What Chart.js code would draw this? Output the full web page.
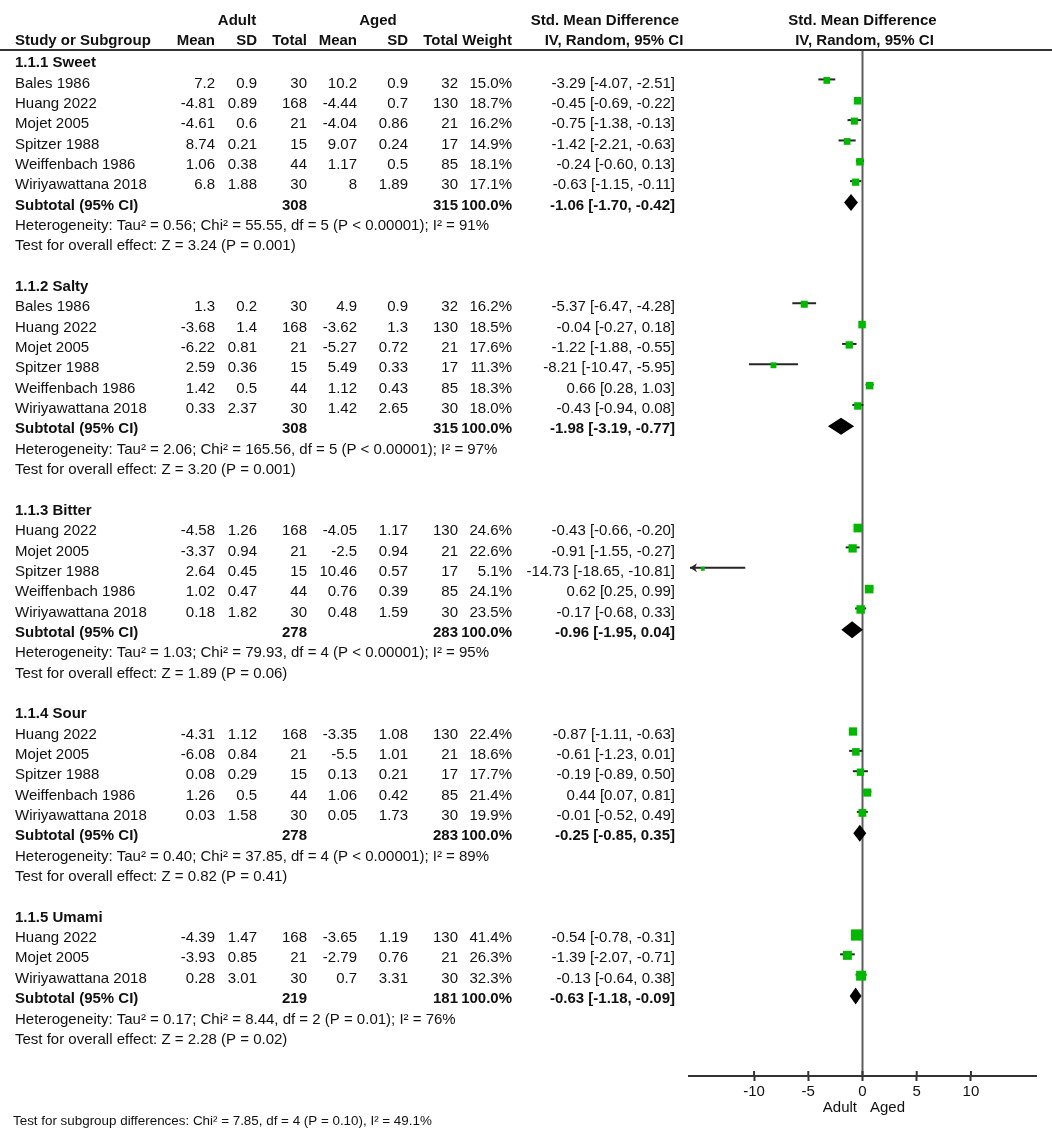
<!DOCTYPE html>
<html><head><meta charset="utf-8">
<script src="https://cdn.jsdelivr.net/npm/chart.js@4.4.0/dist/chart.umd.min.js"></script>
<style>html,body{margin:0;padding:0;background:#fff;}</style>
</head><body>
<canvas id="c" width="1052" height="1138"></canvas>
<script>
// ---------------- DATA ----------------
const subgroupNames = ["1.1.1 Sweet","1.1.2 Salty","1.1.3 Bitter","1.1.4 Sour","1.1.5 Umami"];
const studyGroup = [0,0,0,0,0,0, 1,1,1,1,1,1, 2,2,2,2,2, 3,3,3,3,3, 4,4,4];
const studyNames = [
  "Bales 1986","Huang 2022","Mojet 2005","Spitzer 1988","Weiffenbach 1986","Wiriyawattana 2018",
  "Bales 1986","Huang 2022","Mojet 2005","Spitzer 1988","Weiffenbach 1986","Wiriyawattana 2018",
  "Huang 2022","Mojet 2005","Spitzer 1988","Weiffenbach 1986","Wiriyawattana 2018",
  "Huang 2022","Mojet 2005","Spitzer 1988","Weiffenbach 1986","Wiriyawattana 2018",
  "Huang 2022","Mojet 2005","Wiriyawattana 2018"];
const adultMean = [7.2,-4.81,-4.61,8.74,1.06,6.8, 1.3,-3.68,-6.22,2.59,1.42,0.33, -4.58,-3.37,2.64,1.02,0.18, -4.31,-6.08,0.08,1.26,0.03, -4.39,-3.93,0.28];
const adultSD   = [0.9,0.89,0.6,0.21,0.38,1.88, 0.2,1.4,0.81,0.36,0.5,2.37, 1.26,0.94,0.45,0.47,1.82, 1.12,0.84,0.29,0.5,1.58, 1.47,0.85,3.01];
const adultN    = [30,168,21,15,44,30, 30,168,21,15,44,30, 168,21,15,44,30, 168,21,15,44,30, 168,21,30];
const agedMean  = [10.2,-4.44,-4.04,9.07,1.17,8, 4.9,-3.62,-5.27,5.49,1.12,1.42, -4.05,-2.5,10.46,0.76,0.48, -3.35,-5.5,0.13,1.06,0.05, -3.65,-2.79,0.7];
const agedSD    = [0.9,0.7,0.86,0.24,0.5,1.89, 0.9,1.3,0.72,0.33,0.43,2.65, 1.17,0.94,0.57,0.39,1.59, 1.08,1.01,0.21,0.42,1.73, 1.19,0.76,3.31];
const agedN     = [32,130,21,17,85,30, 32,130,21,17,85,30, 130,21,17,85,30, 130,21,17,85,30, 130,21,30];
const weightPct = [15.0,18.7,16.2,14.9,18.1,17.1, 16.2,18.5,17.6,11.3,18.3,18.0, 24.6,22.6,5.1,24.1,23.5, 22.4,18.6,17.7,21.4,19.9, 41.4,26.3,32.3];
const smd    = [-3.29,-0.45,-0.75,-1.42,-0.24,-0.63, -5.37,-0.04,-1.22,-8.21,0.66,-0.43, -0.43,-0.91,-14.73,0.62,-0.17, -0.87,-0.61,-0.19,0.44,-0.01, -0.54,-1.39,-0.13];
const ciLow  = [-4.07,-0.69,-1.38,-2.21,-0.60,-1.15, -6.47,-0.27,-1.88,-10.47,0.28,-0.94, -0.66,-1.55,-18.65,0.25,-0.68, -1.11,-1.23,-0.89,0.07,-0.52, -0.78,-2.07,-0.64];
const ciHigh = [-2.51,-0.22,-0.13,-0.63,0.13,-0.11, -4.28,0.18,-0.55,-5.95,1.03,0.08, -0.20,-0.27,-10.81,0.99,0.33, -0.63,0.01,0.50,0.81,0.49, -0.31,-0.71,0.38];

const subAdultN = [308,308,278,278,219];
const subAgedN  = [315,315,283,283,181];
const subSMD  = [-1.06,-1.98,-0.96,-0.25,-0.63];
const subLow  = [-1.70,-3.19,-1.95,-0.85,-1.18];
const subHigh = [-0.42,-0.77,0.04,0.35,-0.09];
const hetTau2 = ["0.56","2.06","1.03","0.40","0.17"];
const hetChi2 = ["55.55","165.56","79.93","37.85","8.44"];
const hetDf   = [5,5,4,4,2];
const hetP    = ["< 0.00001","< 0.00001","< 0.00001","< 0.00001","= 0.01"];
const hetI2   = [91,97,95,89,76];
const effZ    = ["3.24","3.20","1.89","0.82","2.28"];
const effP    = ["0.001","0.001","0.06","0.41","0.02"];
const overallChi2 = "7.85", overallDf = 4, overallP = "0.10", overallI2 = "49.1";

const xTicks = [-10,-5,0,5,10];
const xMin = -16, xMax = 16;

// ---------------- ROW LAYOUT ----------------
const headerRow = [], studyRow = [], subRow = [], hetRow = [], testRow = [];
let r = 0;
subgroupNames.forEach((n, g) => {
  headerRow[g] = r++;
  studyGroup.forEach((sg, i) => { if (sg === g) studyRow[i] = r++; });
  subRow[g] = r++; hetRow[g] = r++; testRow[g] = r++; r++;
});
const overallRow = testRow[testRow.length - 1] + 4;

// ---------------- STYLE ----------------
const FONT = '"Liberation Sans", Arial, Helvetica, sans-serif';
const TXT = '#111';
const GREEN = '#00b800';
const TEXT_DY = 3;
const colRight = {adultMean:215, adultSD:257, adultN:307, agedMean:357, agedSD:408, agedN:458, weight:512, ci:675};
const fmtCI = (e, l, h) => `${e.toFixed(2)} [${l.toFixed(2)}, ${h.toFixed(2)}]`;
const squareSide = w => 1.75 * Math.sqrt(w);

const forestPlugin = {
  id: 'forest',
  beforeDatasetsDraw(chart) {
    const {ctx, scales: {x, y}, chartArea: ca} = chart;
    ctx.save();
    const x0 = x.getPixelForValue(0);
    ctx.strokeStyle = '#5e5e5e'; ctx.lineWidth = 2;
    ctx.beginPath(); ctx.moveTo(x0, y.getPixelForValue(-0.5)); ctx.lineTo(x0, ca.bottom); ctx.stroke();
    // CI lines (under the squares)
    ctx.strokeStyle = '#262626'; ctx.fillStyle = '#262626'; ctx.lineWidth = 2;
    smd.forEach((e, i) => {
      const yy = y.getPixelForValue(studyRow[i]) - 1;
      const lo = Math.max(ciLow[i], xMin), hi = Math.min(ciHigh[i], xMax);
      let xl = x.getPixelForValue(lo), xh = x.getPixelForValue(hi);
      if (ciLow[i] < xMin) xl += 1;
      ctx.beginPath(); ctx.moveTo(xl, yy); ctx.lineTo(xh, yy); ctx.stroke();
      if (ciLow[i] < xMin) {
        ctx.beginPath(); ctx.moveTo(xl, yy); ctx.lineTo(xl + 7, yy - 4.5); ctx.lineTo(xl + 5, yy); ctx.lineTo(xl + 7, yy + 4.5); ctx.closePath(); ctx.fill();
      }
    });
    // subtotal diamonds
    ctx.fillStyle = '#000';
    subSMD.forEach((e, g) => {
      const yy = y.getPixelForValue(subRow[g]);
      const xl = x.getPixelForValue(subLow[g]), xe = x.getPixelForValue(e), xh = x.getPixelForValue(subHigh[g]);
      ctx.beginPath(); ctx.moveTo(xl, yy); ctx.lineTo(xe, yy - 8.5); ctx.lineTo(xh, yy); ctx.lineTo(xe, yy + 8.5); ctx.closePath(); ctx.fill();
    });
    ctx.restore();
  },
  afterDraw(chart) {
    const {ctx, scales: {x, y}, chartArea: ca} = chart;
    ctx.save();
    const ty = row => y.getPixelForValue(row) + TEXT_DY;
    const t = (s, px, row, align, bold, size) => {
      ctx.font = `${bold ? 'bold ' : ''}${size || 15}px ${FONT}`;
      ctx.textAlign = align || 'left'; ctx.textBaseline = 'middle'; ctx.fillStyle = TXT;
      ctx.fillText(s, px, ty(row));
    };
    // header line
    ctx.strokeStyle = '#333'; ctx.lineWidth = 2;
    ctx.beginPath(); ctx.moveTo(0, y.getPixelForValue(-0.5)); ctx.lineTo(1052, y.getPixelForValue(-0.5)); ctx.stroke();
    // column headers
    const h1 = -2.07, h2 = -1.1;
    t('Adult', 237, h1, 'center', true); t('Aged', 378, h1, 'center', true);
    t('Std. Mean Difference', 605, h1, 'center', true); t('IV, Random, 95% CI', 614, h2, 'center', true);
    const x0 = x.getPixelForValue(0);
    t('Std. Mean Difference', x0, h1, 'center', true); t('IV, Random, 95% CI', x0 + 2, h2, 'center', true);
    t('Study or Subgroup', 15, h2, 'left', true);
    t('Mean', colRight.adultMean, h2, 'right', true); t('SD', colRight.adultSD, h2, 'right', true); t('Total', colRight.adultN, h2, 'right', true);
    t('Mean', colRight.agedMean, h2, 'right', true); t('SD', colRight.agedSD, h2, 'right', true); t('Total', colRight.agedN, h2, 'right', true);
    t('Weight', colRight.weight, h2, 'right', true);
    // subgroups
    subgroupNames.forEach((n, g) => {
      t(n, 15, headerRow[g], 'left', true);
      t('Subtotal (95% CI)', 15, subRow[g], 'left', true);
      t(String(subAdultN[g]), colRight.adultN, subRow[g], 'right', true);
      t(String(subAgedN[g]), colRight.agedN, subRow[g], 'right', true);
      t('100.0%', colRight.weight, subRow[g], 'right', true);
      t(fmtCI(subSMD[g], subLow[g], subHigh[g]), colRight.ci, subRow[g], 'right', true);
      t(`Heterogeneity: Tau\u00b2 = ${hetTau2[g]}; Chi\u00b2 = ${hetChi2[g]}, df = ${hetDf[g]} (P ${hetP[g]}); I\u00b2 = ${hetI2[g]}%`, 15, hetRow[g], 'left', false);
      t(`Test for overall effect: Z = ${effZ[g]} (P = ${effP[g]})`, 15, testRow[g], 'left', false);
    });
    studyNames.forEach((n, i) => {
      const rr = studyRow[i];
      t(n, 15, rr, 'left');
      t(String(adultMean[i]), colRight.adultMean, rr, 'right');
      t(String(adultSD[i]), colRight.adultSD, rr, 'right');
      t(String(adultN[i]), colRight.adultN, rr, 'right');
      t(String(agedMean[i]), colRight.agedMean, rr, 'right');
      t(String(agedSD[i]), colRight.agedSD, rr, 'right');
      t(String(agedN[i]), colRight.agedN, rr, 'right');
      t(weightPct[i].toFixed(1) + '%', colRight.weight, rr, 'right');
      t(fmtCI(smd[i], ciLow[i], ciHigh[i]), colRight.ci, rr, 'right');
    });
    t(`Test for subgroup differences: Chi\u00b2 = ${overallChi2}, df = ${overallDf} (P = ${overallP}), I\u00b2 = ${overallI2}%`, 13, overallRow, 'left', false, 13.4);
    // upper halves of axis ticks
    ctx.strokeStyle = '#333'; ctx.lineWidth = 2;
    xTicks.forEach(v => {
      const px = x.getPixelForValue(v);
      ctx.beginPath(); ctx.moveTo(px, ca.bottom); ctx.lineTo(px, ca.bottom - 5); ctx.stroke();
    });
    // favours labels
    ctx.font = `15px ${FONT}`; ctx.fillStyle = TXT; ctx.textBaseline = 'middle';
    ctx.textAlign = 'right'; ctx.fillText('Adult', x0 - 5.5, ca.bottom + 32);
    ctx.textAlign = 'left'; ctx.fillText('Aged', x0 + 7.5, ca.bottom + 32);
    ctx.restore();
  }
};

const studyPoints = smd.map((e, i) => ({x: e, y: studyRow[i]}));

new Chart(document.getElementById('c'), {
  type: 'scatter',
  data: {datasets: [{
    data: studyPoints,
    pointStyle: 'rect',
    pointRadius: c => squareSide(weightPct[c.dataIndex]) / Math.SQRT2,
    pointHoverRadius: c => squareSide(weightPct[c.dataIndex]) / Math.SQRT2,
    backgroundColor: GREEN, borderWidth: 0
  }]},
  options: {
    responsive: false, animation: false, devicePixelRatio: 1, events: [],
    layout: {padding: {left: 689, right: 16, top: 0, bottom: 0}},
    plugins: {legend: {display: false}, tooltip: {enabled: false}},
    scales: {
      x: {
        type: 'linear', min: xMin, max: xMax,
        afterBuildTicks: s => { s.ticks = xTicks.map(v => ({value: v})); },
        afterFit: s => { s.height = 62; },
        grid: {display: true, drawOnChartArea: false, drawTicks: true, tickLength: 5, tickColor: '#333', tickWidth: 2},
        border: {display: true, color: '#333', width: 2},
        ticks: {font: {family: FONT, size: 15}, color: TXT, padding: 2, maxRotation: 0, autoSkip: false}
      },
      y: {type: 'linear', reverse: true, min: -2.561, max: 49.93, display: false}
    }
  },
  plugins: [forestPlugin]
});
</script>
</body></html>
